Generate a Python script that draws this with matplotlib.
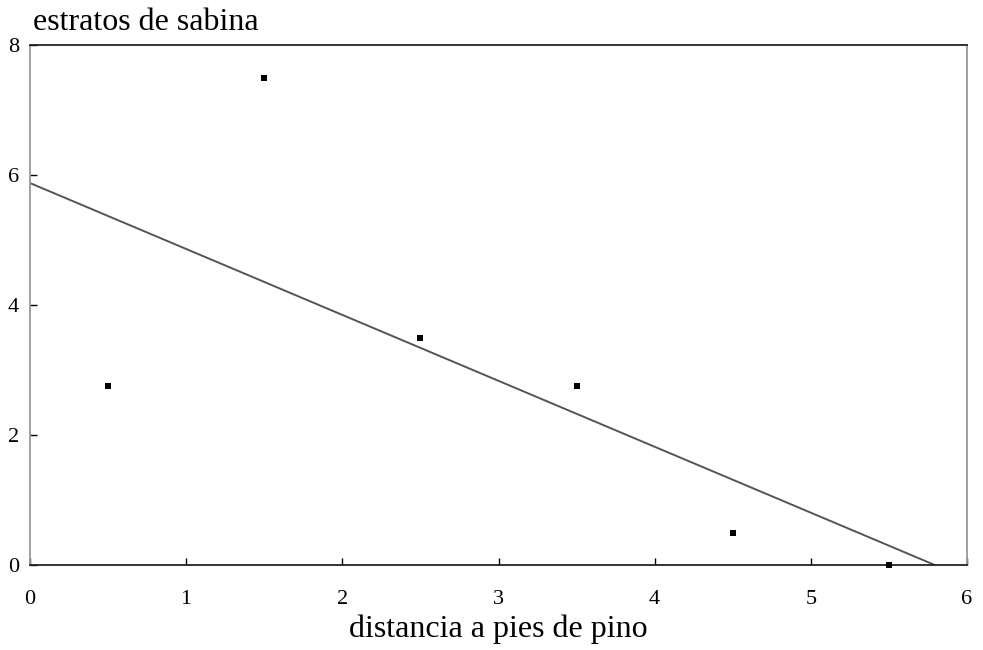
import numpy as np
import matplotlib
matplotlib.use("Agg")
import matplotlib.pyplot as plt

plt.rcParams['font.family'] = ['Liberation Serif', 'DejaVu Serif']

x_vals = [0.5, 1.5, 2.5, 3.5, 4.5, 5.5]
y_vals = [2.75, 7.5, 3.5, 2.75, 0.5, 0.0]
x_ticks = [0, 1, 2, 3, 4, 5, 6]
y_ticks = [0, 2, 4, 6, 8]

fig = plt.figure(figsize=(9.83, 6.5), dpi=100)
ax = fig.add_axes([30/983, 1-565/650, (967-30)/983, (565-45)/650])

ax.scatter(x_vals, y_vals, marker='s', s=16, color='black', zorder=3,
           linewidths=0, clip_on=False)

slope, intercept = np.polyfit(x_vals, y_vals, 1)
x_end = -intercept / slope
xs = np.array([0.0, x_end])
ax.plot(xs, intercept + slope * xs, color='#555555', lw=1.4, zorder=2)

ax.set_xlim(0, 6)
ax.set_ylim(0, 8)
ax.set_xticks(x_ticks)
ax.set_yticks(y_ticks)
ax.tick_params(direction='in', length=5, width=1, labelsize=16)
ax.tick_params(axis='x', pad=18)
ax.tick_params(axis='y', pad=8)
for s in ['top', 'bottom']:
    ax.spines[s].set_color('#222222')
    ax.spines[s].set_linewidth(1.3)
for s in ['left', 'right']:
    ax.spines[s].set_color('#999999')
    ax.spines[s].set_linewidth(1.3)

ax.set_xlabel('distancia a pies de pino', fontsize=23, labelpad=4)
fig.text(33/983, 1-22/650, 'estratos de sabina', fontsize=23, ha='left', va='center')

fig.savefig('out.png', dpi=100)
